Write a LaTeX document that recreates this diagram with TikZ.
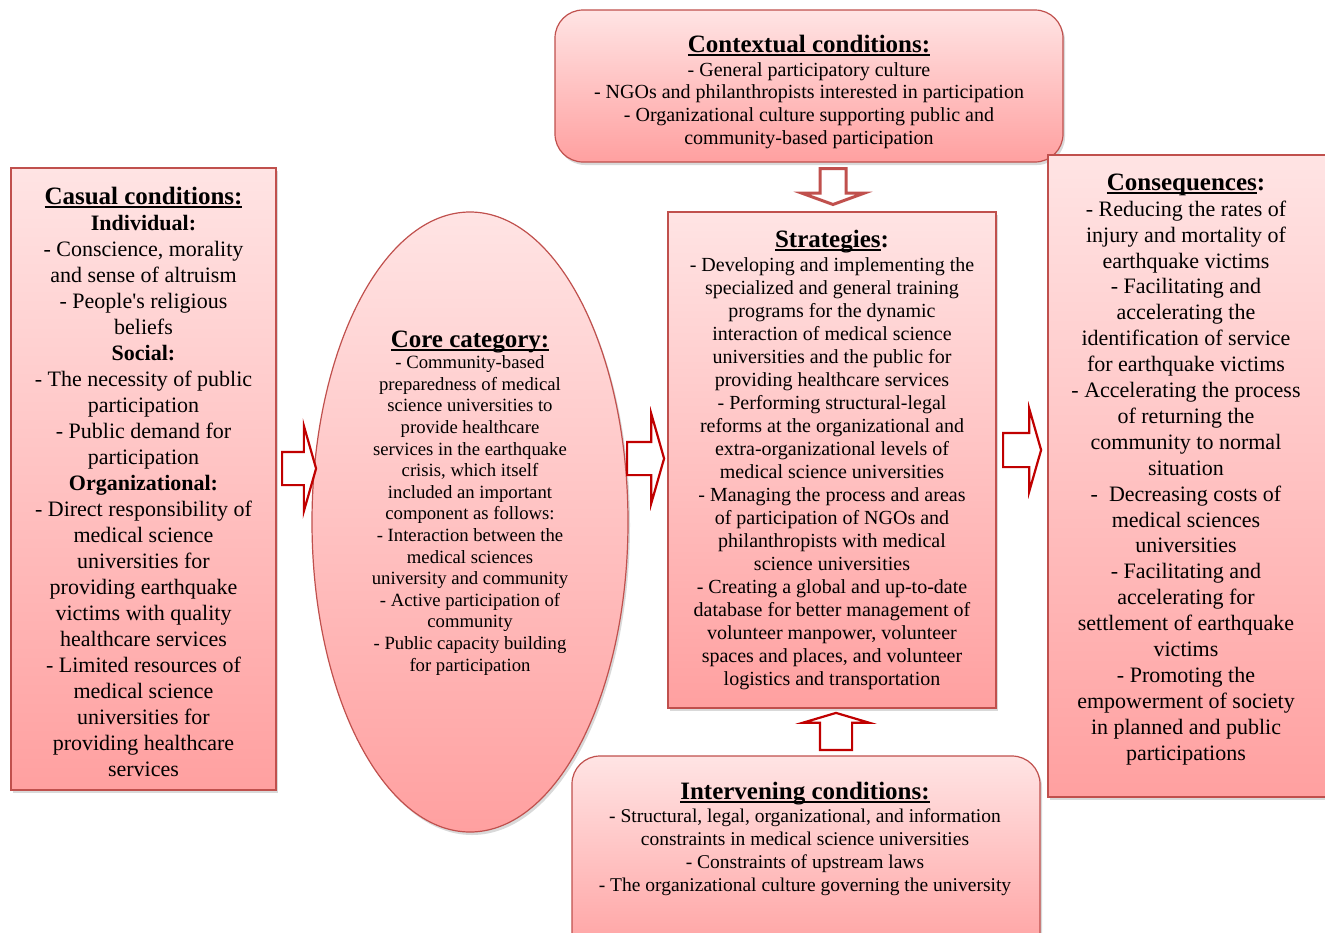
\documentclass[tikz,border=0pt]{standalone}
\usepackage{fontspec}
\setmainfont{Liberation Serif}
\usetikzlibrary{positioning, shapes.geometric, shapes.arrows, shadows}

\definecolor{boxline}{RGB}{192,80,77}
\definecolor{boxtop}{RGB}{255,228,228}
\definecolor{boxbot}{RGB}{255,160,160}
\definecolor{arrred}{RGB}{192,0,0}

% underline with a rule of our own thickness
\newcommand{\hdunder}[1]{\setbox0\hbox{#1}\rlap{\rule[-3.5pt]{\wd0}{1.6pt}}\box0}

\tikzset{
  panel/.style={draw=boxline, line width=1.2pt, top color=boxtop, bottom color=boxbot,
    inner sep=0pt, outer sep=0pt,
    drop shadow={shadow xshift=2pt, shadow yshift=-3pt, opacity=0.3}},
  roundpanel/.style={panel, rounded corners=28pt},
  hd/.style={font=\fontsize{25}{28}\selectfont\bfseries, anchor=base, inner sep=0pt},
  txt/.style={align=center, anchor=north, inner sep=0pt},
  blockarr/.style={single arrow, draw=arrred, line width=2.2pt, fill=white,
    inner xsep=0pt, single arrow tip angle=148, anchor=tail}
}

\begin{document}
\begin{tikzpicture}[x=1pt, y=-1pt]
  \useasboundingbox (0,0) rectangle (1325,932);

  % Cajas
  \node[panel, minimum width=265, minimum height=622] (casual) at (143.5,479) {};
  \node[roundpanel, minimum width=508, minimum height=152] (context) at (809,86) {};
  \node[panel, ellipse, minimum width=316, minimum height=620] (core) at (470,522) {};
  \node[panel, minimum width=328, minimum height=496] (strat) at (832,460) {};
  \node[panel, minimum width=279, minimum height=642] (conseq) at (1187.5,476) {};
  \node[roundpanel, minimum width=468, minimum height=204] (interv) at (806,858) {};

  % Flechas
  \node[blockarr, inner ysep=15.5pt, single arrow head extend=26pt, minimum height=34pt] (a1) at (281,468.5) {};
  \node[blockarr, inner ysep=15.5pt, single arrow head extend=28pt, minimum height=37pt] (a2) at (626,458.5) {};
  \node[blockarr, inner ysep=16pt, single arrow head extend=24pt, minimum height=38pt] (a3) at (1002,450) {};
  \node[blockarr, draw=boxline, line width=3pt, shape border rotate=270, single arrow tip angle=140,
    inner xsep=11.5pt, inner ysep=0pt, single arrow head extend=18pt, minimum height=36pt] (a4) at (833,167) {};
  \node[blockarr, shape border rotate=90, single arrow tip angle=147,
    inner xsep=15pt, inner ysep=0pt, single arrow head extend=17pt, minimum height=37pt] (a5) at (836,751) {};

  % Textos
  \node[hd] (casualhd) at (143.5,204) {\hdunder{Casual conditions:}};
  \node[txt, font=\fontsize{22}{26}\selectfont] (casualtxt) at (143.5,215) {%
    {\bfseries Individual:}\\
    - Conscience, morality\\
    and sense of altruism\\
    - People\textquotesingle s religious\\
    beliefs\\
    {\bfseries Social:}\\
    - The necessity of public\\
    participation\\
    - Public demand for\\
    participation\\
    {\bfseries Organizational:}\\
    - Direct responsibility of\\
    medical science\\
    universities for\\
    providing earthquake\\
    victims with quality\\
    healthcare services\\
    - Limited resources of\\
    medical science\\
    universities for\\
    providing healthcare\\
    services};

  \node[hd] (contexthd) at (809,52) {\hdunder{Contextual conditions:}};
  \node[txt, font=\fontsize{20}{22.7}\selectfont] (contexttxt) at (809,62) {%
    - General participatory culture\\
    - NGOs and philanthropists interested in participation\\
    - Organizational culture supporting public and\\
    community-based participation};

  \node[hd] (corehd) at (470,347) {\hdunder{Core category:}};
  \node[txt, font=\fontsize{18.7}{21.6}\selectfont] (coretxt) at (470,355.5) {%
    - Community-based\\
    preparedness of medical\\
    science universities to\\
    provide healthcare\\
    services in the earthquake\\
    crisis, which itself\\
    included an important\\
    component as follows:\\
    - Interaction between the\\
    medical sciences\\
    university and community\\
    - Active participation of\\
    community\\
    - Public capacity building\\
    for participation};

  \node[hd] (strathd) at (832,247) {\hdunder{Strategies}:};
  \node[txt, font=\fontsize{20}{23}\selectfont] (strattxt) at (832,257) {%
    - Developing and implementing the\\
    specialized and general training\\
    programs for the dynamic\\
    interaction of medical science\\
    universities and the public for\\
    providing healthcare services\\
    - Performing structural-legal\\
    reforms at the organizational and\\
    extra-organizational levels of\\
    medical science universities\\
    - Managing the process and areas\\
    of participation of NGOs and\\
    philanthropists with medical\\
    science universities\\
    - Creating a global and up-to-date\\
    database for better management of\\
    volunteer manpower, volunteer\\
    spaces and places, and volunteer\\
    logistics and transportation};

  \node[hd] (conseqhd) at (1186,190) {\hdunder{Consequences}:};
  \node[txt, font=\fontsize{22}{25.9}\selectfont] (conseqtxt) at (1186,200.5) {%
    - Reducing the rates of\\
    injury and mortality of\\
    earthquake victims\\
    - Facilitating and\\
    accelerating the\\
    identification of service\\
    for earthquake victims\\
    - Accelerating the process\\
    of returning the\\
    community to normal\\
    situation\\
    -~ Decreasing costs of\\
    medical sciences\\
    universities\\
    - Facilitating and\\
    accelerating for\\
    settlement of earthquake\\
    victims\\
    - Promoting the\\
    empowerment of society\\
    in planned and public\\
    participations};

  \node[hd] (intervhd) at (805,799) {\hdunder{Intervening conditions:}};
  \node[txt, font=\fontsize{19.5}{23}\selectfont] (intervtxt) at (805,808.5) {%
    - Structural, legal, organizational, and information\\
    constraints in medical science universities\\
    - Constraints of upstream laws\\
    - The organizational culture governing the university};
\end{tikzpicture}
\end{document}
